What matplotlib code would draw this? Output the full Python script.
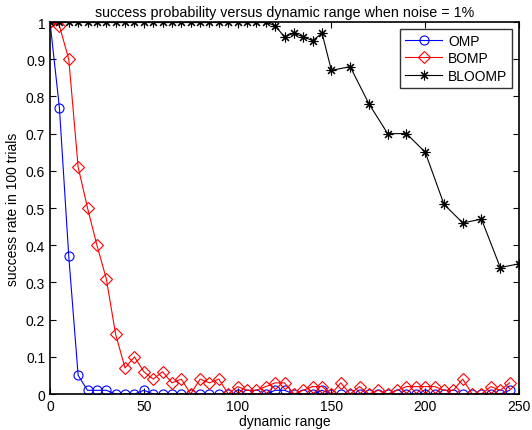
import numpy as np
import matplotlib
matplotlib.use("Agg")
import matplotlib.pyplot as plt

plt.rcParams['font.family'] = ['Liberation Sans', 'DejaVu Sans']

# dynamic range samples
x_omp = list(range(0, 250, 5))
omp = [1.0, 0.77, 0.37, 0.05, 0.01, 0.01, 0.01, 0, 0, 0,
       0.01, 0, 0, 0, 0, 0, 0, 0, 0, 0,
       0, 0, 0, 0, 0.01, 0.01, 0, 0, 0, 0.01,
       0, 0, 0, 0, 0, 0, 0, 0, 0, 0,
       0, 0, 0, 0, 0, 0, 0, 0, 0, 0.01]
bomp = [1.0, 0.99, 0.90, 0.61, 0.50, 0.40, 0.31, 0.16, 0.07, 0.10,
        0.06, 0.04, 0.06, 0.03, 0.04, 0, 0.04, 0.03, 0.04, 0,
        0.02, 0.01, 0.01, 0.02, 0.03, 0.03, 0, 0.01, 0.02, 0.02,
        0, 0.03, 0, 0.02, 0, 0.01, 0, 0.01, 0.02, 0.02,
        0.02, 0.02, 0.01, 0.01, 0.04, 0, 0, 0.02, 0.01, 0.03]
x_bloomp = list(range(0, 155, 5)) + list(range(160, 260, 10))
bloomp = [1.0] * 24 + [0.99, 0.96, 0.97, 0.96, 0.95, 0.97, 0.87,
                       0.88, 0.78, 0.70, 0.70, 0.65, 0.51, 0.46, 0.47, 0.34, 0.35]

fig = plt.figure(figsize=(5.32, 4.31), dpi=100)
ax = fig.add_axes([0.094, 0.0835, 0.8816, 0.8631])

ax.plot(x_omp, omp, '-o', color='blue', mfc='none', ms=6.5, lw=0.8, mew=0.8, label='OMP')
ax.plot(x_omp, bomp, '-D', color='red', mfc='none', ms=6, lw=0.8, mew=0.8, label='BOMP')
# matlab style asterisk: 8 spokes
ax.plot(x_bloomp, bloomp, '-', marker=(8, 2, 0), color='black', ms=7, lw=0.8, mew=0.8,
        label='BLOOMP')

ax.set_xlim(0, 250)
ax.set_ylim(0, 1)
ax.set_xticks(range(0, 251, 50))
yt = np.round(np.arange(0, 1.01, 0.1), 1)
ax.set_yticks(yt)
ax.set_yticklabels(['0'] + ['%.1f' % v for v in yt[1:-1]] + ['1'])
ax.tick_params(direction='in', top=True, right=True, labelsize=10, length=4, width=0.8)
for s in ax.spines.values():
    s.set_linewidth(1.2)

ax.set_xlabel('dynamic range', fontsize=10, labelpad=1)
ax.set_ylabel('success rate in 100 trials', fontsize=10, labelpad=4)
ax.set_title('success probability versus dynamic range when noise = 1%', fontsize=10.3, pad=4)

leg = ax.legend(loc='upper right', fontsize=10, fancybox=False, edgecolor='black',
                borderaxespad=0.5, handlelength=2.7, handletextpad=0.4,
                labelspacing=0.25, borderpad=0.35)
leg.get_frame().set_linewidth(1.0)

fig.savefig('out.png', dpi=100)
